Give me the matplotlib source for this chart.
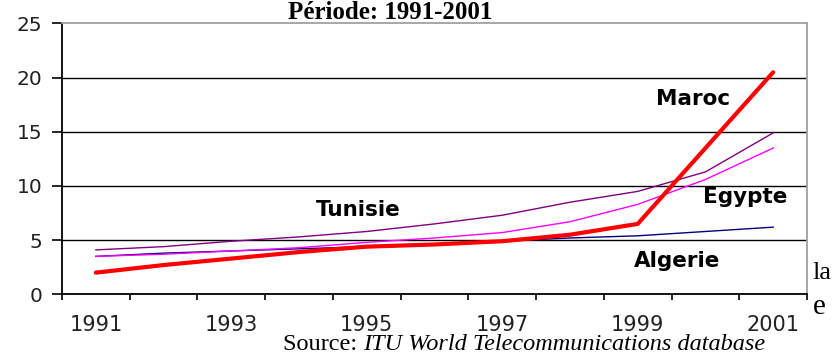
import numpy as np
import matplotlib.pyplot as plt

years = ['1991', '1992', '1993', '1994', '1995', '1996', '1997', '1998', '1999', '2000', '2001']
maroc = [2.0, 2.7, 3.3, 3.9, 4.4, 4.6, 4.9, 5.5, 6.5, 13.5, 20.5]
tunisie = [4.1, 4.4, 4.9, 5.3, 5.8, 6.5, 7.3, 8.5, 9.5, 11.3, 14.9]
egypte = [3.5, 3.7, 4.0, 4.3, 4.8, 5.2, 5.7, 6.7, 8.3, 10.6, 13.5]
algerie = [3.5, 3.8, 4.0, 4.2, 4.4, 4.6, 4.9, 5.2, 5.4, 5.8, 6.2]

x = np.arange(len(years))

fig = plt.figure(figsize=(8.32, 3.56), dpi=100)
ax = fig.add_axes([0.0745, 0.1733, 0.8955, 0.7607])

# gridlines at 5..20, the top one is the grey frame
for v in [5, 10, 15, 20]:
    ax.axhline(v, color='black', lw=1.0, zorder=1)

ax.plot(x, algerie, color='#000080', lw=1.0, zorder=2)
ax.plot(x, tunisie, color='#800080', lw=1.0, zorder=3)
ax.plot(x, egypte, color='#ff00ff', lw=1.0, zorder=3)
ax.plot(x, maroc, color='#ff0000', lw=3.0, solid_capstyle='round', zorder=4)

ax.set_xlim(-0.5, len(years) - 0.5)
ax.set_ylim(0, 25)

ax.set_yticks([0, 5, 10, 15, 20, 25])
ax.tick_params(axis='y', length=7, width=1.2, pad=7, labelsize=14.5, labelcolor='#222222')
ax.set_xticks(x[::2])
ax.set_xticklabels(years[::2])
ax.set_xticks(np.arange(-0.5, len(years)), minor=True)
ax.tick_params(axis='x', which='major', length=0, pad=15, labelsize=15, labelcolor='#222222')
ax.tick_params(axis='x', which='minor', length=4, width=1.2)

ax.spines['left'].set_linewidth(1.3)
ax.spines['bottom'].set_linewidth(1.3)
ax.spines['top'].set_color('#a0a0a0')
ax.spines['right'].set_color('#a0a0a0')
ax.spines['top'].set_linewidth(1.3)
ax.spines['right'].set_linewidth(1.3)

lab = dict(fontsize=15.5, fontweight='bold', ha='center', va='baseline')
ax.text(8.82, 17.5, 'Maroc', **lab)
ax.text(3.88, 7.25, 'Tunisie', **lab)
ax.text(9.59, 8.4, 'Egypte', **lab)
ax.text(8.58, 2.55, 'Algerie', **lab)

fig.text(0.469, 0.966, 'Période: 1991-2001', family='Liberation Serif',
         fontsize=18, fontweight='bold', ha='center', va='center')

src = fig.text(0.34, 0.003, 'Source: ', family='Liberation Serif', fontsize=17.5,
               ha='left', va='bottom')
ax.annotate('ITU World Telecommunications database', xy=(1, 0), xycoords=src,
            family='Liberation Serif', fontsize=17.5, style='italic',
            ha='left', va='bottom', annotation_clip=False)

# bits of the surrounding document text cut by the image edge
fig.text(0.977, 0.216, 'la', family='Liberation Serif', fontsize=19, ha='left', va='baseline')
fig.text(0.977, 0.118, 'e', family='Liberation Serif', fontsize=21, ha='left', va='baseline')

plt.savefig('out.png', dpi=100)
